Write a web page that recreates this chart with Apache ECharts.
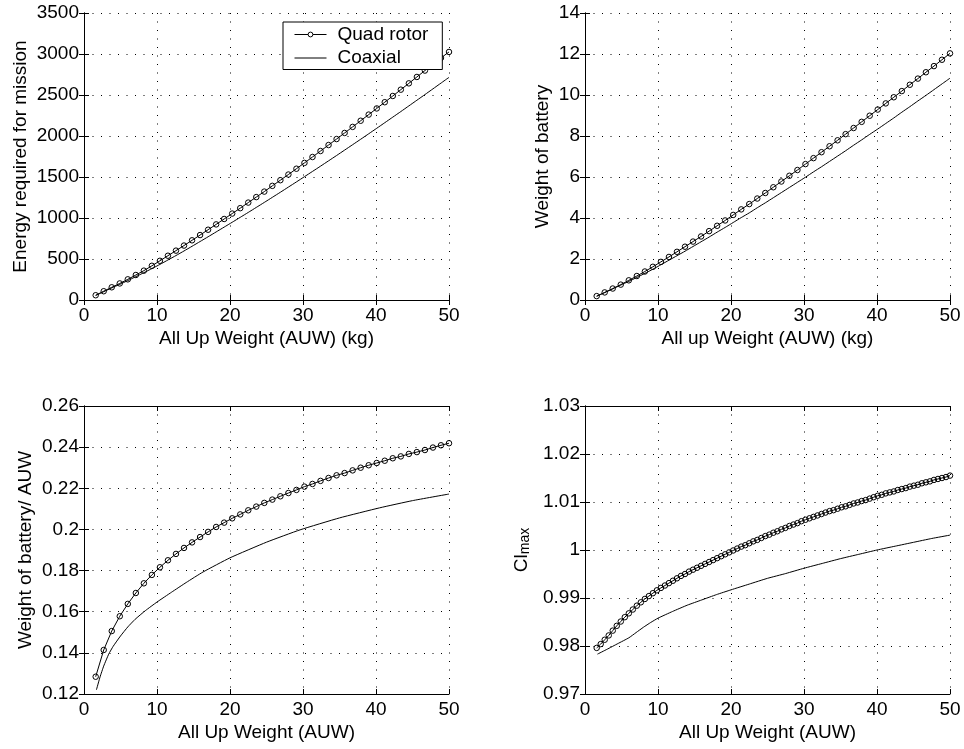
<!DOCTYPE html>
<html><head><meta charset="utf-8">
<script src="https://cdn.jsdelivr.net/npm/echarts@6/dist/echarts.min.js"></script>
<style>html,body{margin:0;padding:0;background:#fff}#c{width:964px;height:749px}</style>
</head><body><div id="c"></div>
<script>
// ---- data ----
const xQuad = [1.6,2.7,3.8,4.9,6.0,7.1,8.2,9.3,10.4,11.5,12.6,13.7,14.8,15.9,17.0,18.1,19.2,20.3,21.4,22.5,23.6,24.7,25.8,26.9,28.0,29.1,30.2,31.3,32.4,33.5,34.6,35.7,36.8,37.9,39.0,40.1,41.2,42.3,43.4,44.5,45.6,46.7,47.8,48.9,50.0];
const energyQuad = [58,107,155,202,252,305,358,417,478,540,602,664,728,792,857,922,988,1054,1120,1188,1255,1322,1392,1461,1530,1601,1672,1744,1817,1890,1963,2037,2111,2186,2261,2336,2412,2488,2565,2642,2720,2798,2876,2952,3025];
const energyCoax = [55,101,147,191,237,285,333,383,434,488,542,598,655,713,771,830,889,948,1008,1068,1129,1190,1252,1314,1377,1440,1504,1568,1632,1697,1762,1828,1894,1960,2027,2094,2162,2230,2298,2367,2436,2505,2575,2645,2715];
const battQuad = [0.19,0.37,0.56,0.75,0.96,1.17,1.39,1.62,1.86,2.1,2.35,2.6,2.85,3.1,3.36,3.62,3.88,4.15,4.42,4.68,4.95,5.22,5.5,5.78,6.06,6.34,6.63,6.92,7.21,7.5,7.79,8.09,8.39,8.69,8.99,9.29,9.59,9.89,10.19,10.5,10.8,11.11,11.41,11.72,12.03];
const battCoax = [0.18,0.36,0.54,0.73,0.91,1.1,1.3,1.5,1.72,1.94,2.16,2.38,2.61,2.84,3.07,3.31,3.54,3.78,4.02,4.25,4.5,4.74,4.99,5.24,5.49,5.74,5.99,6.25,6.5,6.76,7.02,7.28,7.55,7.81,8.08,8.34,8.61,8.88,9.16,9.43,9.71,9.98,10.26,10.54,10.82];
const ratioQuad = [0.1284,0.1414,0.1506,0.1578,0.1638,0.1691,0.1738,0.1779,0.1816,0.1850,0.1881,0.1910,0.1937,0.1963,0.1988,0.2012,0.2033,0.2054,0.2073,0.2093,0.2111,0.2129,0.2145,0.2161,0.2177,0.2192,0.2208,0.2221,0.2236,0.2250,0.2263,0.2274,0.2287,0.2300,0.2312,0.2323,0.2334,0.2346,0.2355,0.2367,0.2376,0.2386,0.2398,0.2409,0.2419];
const xRatioCoax = [1.7,2.2,2.7,3.4,4,5,6,7,8.4,10,12,14,16.3,20,25,29.6,35,40.5,45,50];
const ratioCoax = [0.1220,0.1283,0.1336,0.1395,0.1432,0.1482,0.1526,0.1563,0.1605,0.1647,0.1695,0.1742,0.1793,0.1862,0.1938,0.1998,0.2056,0.2105,0.2140,0.2172];
const xClQuad = [1.6,2.15,2.7,3.25,3.8,4.35,4.9,5.45,6.0,6.55,7.1,7.65,8.2,8.75,9.3,9.85,10.4,10.95,11.5,12.05,12.6,13.15,13.7,14.25,14.8,15.35,15.9,16.45,17.0,17.55,18.1,18.65,19.2,19.75,20.3,20.85,21.4,21.95,22.5,23.05,23.6,24.15,24.7,25.25,25.8,26.35,26.9,27.45,28.0,28.55,29.1,29.65,30.2,30.75,31.3,31.85,32.4,32.95,33.5,34.05,34.6,35.15,35.7,36.25,36.8,37.35,37.9,38.45,39.0,39.55,40.1,40.65,41.2,41.75,42.3,42.85,43.4,43.95,44.5,45.05,45.6,46.15,46.7,47.25,47.8,48.35,48.9,49.45,50.0];
const clQuad = [0.9796,0.9804,0.9813,0.9822,0.9832,0.9842,0.9851,0.9860,0.9868,0.9876,0.9884,0.9891,0.9898,0.9904,0.9910,0.9916,0.9921,0.9926,0.9931,0.9936,0.9941,0.9946,0.9950,0.9955,0.9959,0.9963,0.9967,0.9971,0.9975,0.9979,0.9983,0.9987,0.9991,0.9995,0.9999,1.0003,1.0007,1.0010,1.0014,1.0018,1.0021,1.0025,1.0029,1.0032,1.0036,1.0039,1.0043,1.0046,1.0050,1.0053,1.0056,1.0060,1.0063,1.0066,1.0069,1.0072,1.0075,1.0078,1.0081,1.0083,1.0086,1.0089,1.0091,1.0094,1.0097,1.0099,1.0102,1.0104,1.0107,1.0110,1.0113,1.0115,1.0118,1.0120,1.0122,1.0125,1.0127,1.0129,1.0132,1.0134,1.0136,1.0139,1.0141,1.0143,1.0146,1.0148,1.0150,1.0152,1.0155];
const xClCoax = [1.7,3,4.5,6,7,8,9,10,12,14,16,18,20,22.5,25,27.5,30,32.5,35,37.5,40,42.5,45,47.5,50];
const clCoax = [0.9783,0.9793,0.9805,0.9817,0.9828,0.9839,0.9849,0.9858,0.9872,0.9885,0.9896,0.9907,0.9917,0.9929,0.9941,0.9951,0.9962,0.9972,0.9982,0.9991,1.0000,1.0008,1.0016,1.0024,1.0031];

const seriesNames = ['Quad rotor', 'Coaxial'];
const xTitles = ['All Up Weight (AUW) (kg)', 'All up Weight (AUW) (kg)', 'All Up Weight (AUW)', 'All Up Weight (AUW)'];
const yTitles = ['Energy required for mission', 'Weight of battery', 'Weight of battery/ AUW', '{a|Cl}{b|max}'];
const yRanges = [[0, 3500, 500], [0, 14, 2], [0.12, 0.26, 0.02], [0.97, 1.03, 0.01]];
const xRange = [0, 50, 10];

// ---- chart ----
const FONT = 'Liberation Sans, Arial, Helvetica, sans-serif';
const FS = 19;
const grids = [
  {left: 84, top: 13, width: 365, height: 287},
  {left: 585, top: 13, width: 365, height: 287},
  {left: 84, top: 406, width: 365, height: 288},
  {left: 585, top: 406, width: 365, height: 288}
];
const yNameGaps = [54, 33, 49, 42];

const fmt = v => String(Number(v.toFixed(4)));
const xAxes = [], yAxes = [];
grids.forEach((g, i) => {
  const common = {
    type: 'value', gridIndex: i, min: xRange[0], max: xRange[1], interval: xRange[2],
    axisLine: {show: true, lineStyle: {color: '#000', width: 1}},
    axisTick: {show: true, inside: true, length: 5, lineStyle: {color: '#000'}}
  };
  xAxes.push(Object.assign({}, common, {
    position: 'bottom',
    name: xTitles[i], nameLocation: 'middle', nameGap: 29,
    nameTextStyle: {fontFamily: FONT, fontSize: FS, color: '#000'},
    axisLabel: {fontFamily: FONT, fontSize: FS, color: '#000', margin: 6, formatter: fmt},
    splitLine: {show: true, lineStyle: {color: '#000', width: 1, type: [1, 7.5]}}
  }));
  xAxes.push(Object.assign({}, common, {
    position: 'top', axisLabel: {show: false}, splitLine: {show: false}
  }));
  const yr = yRanges[i];
  const ycommon = {
    type: 'value', gridIndex: i, min: yr[0], max: yr[1], interval: yr[2],
    axisLine: {show: true, lineStyle: {color: '#000', width: 1}},
    axisTick: {show: true, inside: true, length: 5, lineStyle: {color: '#000'}}
  };
  const nameStyle = {fontFamily: FONT, fontSize: FS, color: '#000'};
  if (i === 3) {
    nameStyle.rich = {
      a: {fontFamily: FONT, fontSize: FS, color: '#000', lineHeight: 20, verticalAlign: 'top', padding: [0, 0, 8, 0]},
      b: {fontFamily: FONT, fontSize: 14, color: '#000', lineHeight: 14, verticalAlign: 'bottom'}
    };
  }
  yAxes.push(Object.assign({}, ycommon, {
    position: 'left',
    name: yTitles[i], nameLocation: 'middle', nameGap: yNameGaps[i],
    nameTextStyle: nameStyle,
    axisLabel: {fontFamily: FONT, fontSize: FS, color: '#000', margin: 5, formatter: fmt},
    splitLine: {show: true, lineStyle: {color: '#000', width: 1, type: [1, 7.5]}}
  }));
  yAxes.push(Object.assign({}, ycommon, {
    position: 'right', axisLabel: {show: false}, splitLine: {show: false}
  }));
});

const zip = (xs, ys) => xs.map((x, k) => [x, ys[k]]);
const quadSeries = (i, xs, ys) => ({
  name: seriesNames[0], type: 'line', xAxisIndex: 2 * i, yAxisIndex: 2 * i,
  data: zip(xs, ys), symbol: 'circle', symbolSize: 5.5, showSymbol: true,
  lineStyle: {color: '#000', width: 1},
  itemStyle: {color: 'rgba(255,255,255,0)', borderColor: '#000', borderWidth: 1},
  animation: false, silent: true, z: 3
});
const coaxSeries = (i, xs, ys) => ({
  name: seriesNames[1], type: 'line', xAxisIndex: 2 * i, yAxisIndex: 2 * i,
  data: zip(xs, ys), symbol: 'none', smooth: 0.15,
  lineStyle: {color: '#000', width: 1}, itemStyle: {color: '#000'},
  animation: false, silent: true, z: 2
});

const option = {
  backgroundColor: '#fff',
  animation: false,
  grid: grids,
  xAxis: xAxes,
  yAxis: yAxes,
  legend: {
    data: [
      {name: seriesNames[0], itemStyle: {color: '#fff', borderColor: '#000', borderWidth: 1}, lineStyle: {width: 1, color: '#000'}},
      {name: seriesNames[1], itemStyle: {color: 'rgba(0,0,0,0)', borderWidth: 0, opacity: 0}, lineStyle: {width: 1, color: '#000'}}
    ],
    orient: 'vertical', left: 283, top: 22,
    backgroundColor: '#fff', borderColor: '#000', borderWidth: 1, borderRadius: 0,
    padding: [2, 14, 1, 11], itemGap: 2.5, itemWidth: 32, itemHeight: 6,
    lineStyle: {width: 1},
    textStyle: {fontFamily: FONT, fontSize: FS, color: '#000', lineHeight: 21, padding: [0, 0, 0, 6]},
    selectedMode: false, z: 10
  },
  series: [
    quadSeries(0, xQuad, energyQuad), coaxSeries(0, xQuad, energyCoax),
    quadSeries(1, xQuad, battQuad), coaxSeries(1, xQuad, battCoax),
    quadSeries(2, xQuad, ratioQuad), coaxSeries(2, xRatioCoax, ratioCoax),
    quadSeries(3, xClQuad, clQuad), coaxSeries(3, xClCoax, clCoax)
  ]
};
const chart = echarts.init(document.getElementById('c'), null, {renderer: 'canvas'});
chart.setOption(option);
</script></body></html>
